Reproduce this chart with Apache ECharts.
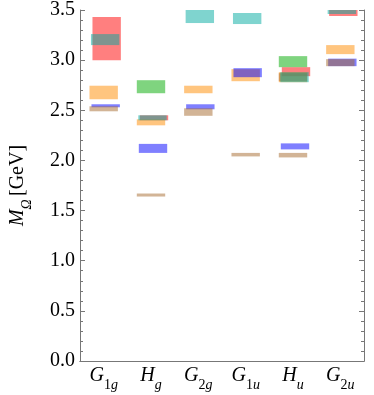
<!DOCTYPE html>
<html>
<head>
<meta charset="utf-8">
<script src="https://cdn.jsdelivr.net/npm/echarts@6/dist/echarts.min.js"></script>
<style>
  html, body { margin: 0; padding: 0; background: #fff; }
  #chart { width: 374px; height: 395px; }
</style>
</head>
<body>
<div id="chart"></div>
<script>
// irreps on the x axis
const categories = ['G1g', 'Hg', 'G2g', 'G1u', 'Hu', 'G2u']
const yTicks = [0, 0.5, 1.0, 1.5, 2.0, 2.5, 3.0, 3.5]

// each entry: [category index, low, high] in GeV
const redLevels = [
  [0, 3.0, 3.43],
  [1, 2.40, 2.45],
  [4, 2.84, 2.93],
  [5, 3.44, 3.56]
]
const greenLevels = [
  [1, 2.67, 2.80],
  [4, 2.93, 3.04]
]
const orangeLevels = [
  [0, 2.61, 2.745],
  [1, 2.35, 2.41],
  [2, 2.67, 2.745],
  [3, 2.79, 2.91],
  [4, 2.78, 2.88],
  [5, 3.06, 3.15]
]
const blueLevels = [
  [0, 2.53, 2.56],
  [1, 2.075, 2.165],
  [2, 2.51, 2.56],
  [3, 2.83, 2.92],
  [4, 2.11, 2.17],
  [5, 2.94, 3.015]
]
const brownLevels = [
  [0, 2.49, 2.54],
  [1, 1.64, 1.67],
  [2, 2.445, 2.52],
  [3, 2.04, 2.075],
  [4, 2.79, 2.87],
  [4, 2.03, 2.075],
  [5, 2.94, 3.01]
]
const cyanLevels = [
  [0, 3.15, 3.26],
  [1, 2.40, 2.45],
  [2, 3.37, 3.51],
  [3, 3.36, 3.47],
  [4, 2.78, 2.88],
  [5, 3.46, 3.56]
]

const serif = '"Liberation Serif", "DejaVu Serif", serif'

function boxSeries(name, data, color, shift) {
  return {
    name: name,
    type: 'custom',
    clip: true,
    itemStyle: { color: color },
    encode: { x: 0, y: [1, 2] },
    data: data,
    renderItem(params, api) {
      const c = api.value(0)
      const top = api.coord([c, api.value(2)])
      const bot = api.coord([c, api.value(1)])
      const w = api.size([1, 0])[0] * 0.6
      return {
        type: 'rect',
        shape: { x: top[0] - w / 2 + shift, y: top[1], width: w, height: bot[1] - top[1] },
        style: api.style()
      }
    }
  }
}

const rich = {
  i: { fontFamily: serif, fontStyle: 'italic', fontSize: 20, color: '#000' },
  s: { fontFamily: serif, fontSize: 14, color: '#000', verticalAlign: 'bottom', padding: [0, 0, -6, 0] },
  si: { fontFamily: serif, fontStyle: 'italic', fontSize: 14, color: '#000', verticalAlign: 'bottom', padding: [0, 0, -6, 0] },
  r: { fontFamily: serif, fontSize: 20, color: '#000' }
}

function irrepLabel(v) {
  const letter = v.charAt(0)
  const rest = v.slice(1)
  if (/^[0-9]/.test(rest)) {
    return '{i|' + letter + '}{s|' + rest.charAt(0) + '}{si|' + rest.slice(1) + '}'
  }
  return '{i|' + letter + '}{si|' + rest + '}'
}

const axisColor = '#777'

const option = {
  animation: false,
  grid: { left: 70, right: 10, top: 9, bottom: 34 },
  xAxis: [
    {
      type: 'category',
      data: categories,
      axisLine: { lineStyle: { color: axisColor } },
      axisTick: { inside: true, alignWithLabel: true, length: 4, lineStyle: { color: axisColor } },
      axisLabel: { interval: 0, margin: 5, formatter: irrepLabel, rich: rich }
    },
    {
      type: 'category',
      data: categories,
      position: 'top',
      axisLine: { lineStyle: { color: axisColor } },
      axisTick: { show: false },
      axisLabel: { show: false }
    }
  ],
  yAxis: [
    {
      type: 'value',
      min: yTicks[0],
      max: yTicks[yTicks.length - 1],
      interval: 0.5,
      splitLine: { show: false },
      axisLine: { show: true, lineStyle: { color: axisColor } },
      axisTick: { show: true, inside: true, length: 5, lineStyle: { color: axisColor } },
      minorTick: { show: true, splitNumber: 5, length: 3, lineStyle: { color: axisColor } },
      axisLabel: {
        margin: 5,
        fontFamily: serif,
        fontSize: 20,
        color: '#000',
        formatter: v => v.toFixed(1)
      },
      name: '{i|M}{si|Ω} {r|[GeV]}',
      nameLocation: 'middle',
      nameGap: 52,
      nameRotate: 90,
      nameTextStyle: { rich: rich }
    },
    {
      type: 'value',
      position: 'right',
      min: yTicks[0],
      max: yTicks[yTicks.length - 1],
      interval: 0.5,
      splitLine: { show: false },
      axisLine: { show: true, lineStyle: { color: axisColor } },
      axisTick: { show: true, inside: true, length: 5, lineStyle: { color: axisColor } },
      minorTick: { show: true, splitNumber: 5, length: 3, lineStyle: { color: axisColor } },
      axisLabel: { show: false }
    }
  ],
  series: [
    boxSeries('red', redLevels, 'rgba(255,0,0,0.5)', 3),
    boxSeries('green', greenLevels, 'rgba(0,170,0,0.5)', 0),
    boxSeries('orange', orangeLevels, 'rgba(255,140,0,0.5)', 0),
    boxSeries('blue', blueLevels, 'rgba(0,0,255,0.5)', 2),
    boxSeries('brown', brownLevels, 'rgba(165,105,45,0.5)', 0),
    boxSeries('cyan', cyanLevels, 'rgba(0,170,160,0.5)', 1.5)
  ]
}

const chart = echarts.init(document.getElementById('chart'))
chart.setOption(option)
</script>
</body>
</html>
